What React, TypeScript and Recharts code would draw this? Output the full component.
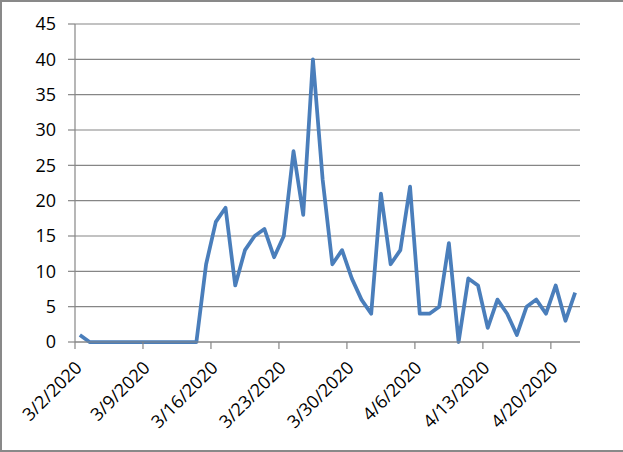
import React from 'react';
import { LineChart, Line, XAxis, YAxis, CartesianGrid } from 'recharts';

const dates = [
  '3/2/2020', '3/3/2020', '3/4/2020', '3/5/2020', '3/6/2020', '3/7/2020', '3/8/2020',
  '3/9/2020', '3/10/2020', '3/11/2020', '3/12/2020', '3/13/2020', '3/14/2020', '3/15/2020',
  '3/16/2020', '3/17/2020', '3/18/2020', '3/19/2020', '3/20/2020', '3/21/2020', '3/22/2020',
  '3/23/2020', '3/24/2020', '3/25/2020', '3/26/2020', '3/27/2020', '3/28/2020', '3/29/2020',
  '3/30/2020', '3/31/2020', '4/1/2020', '4/2/2020', '4/3/2020', '4/4/2020', '4/5/2020',
  '4/6/2020', '4/7/2020', '4/8/2020', '4/9/2020', '4/10/2020', '4/11/2020', '4/12/2020',
  '4/13/2020', '4/14/2020', '4/15/2020', '4/16/2020', '4/17/2020', '4/18/2020', '4/19/2020',
  '4/20/2020', '4/21/2020', '4/22/2020',
];

const counts = [
  1, 0, 0, 0, 0, 0, 0,
  0, 0, 0, 0, 0, 0, 11,
  17, 19, 8, 13, 15, 16, 12,
  15, 27, 18, 40, 23, 11, 13,
  9, 6, 4, 21, 11, 13, 22,
  4, 4, 5, 14, 0, 9, 8,
  2, 6, 4, 1, 5, 6, 4,
  8, 3, 7,
];

// weekly labels on the date axis (day offset from 3/2/2020)
const tickDays = [0, 7, 14, 21, 28, 35, 42, 49];
const yTicks = [0, 5, 10, 15, 20, 25, 30, 35, 40, 45];

const gray = '#868686';
const font = '"Open Sans", sans-serif';

// points sit in the middle of each day slot, like Excel's "between tick marks"
const data = dates.map((d, i) => ({ day: i + 0.5, date: d, value: counts[i] }));

const DateTick = (props: any) => {
  const { x, y, payload } = props;
  const label = dates[payload.value];
  const ax = x + 8;
  const ay = y + 18;
  return (
    <text
      x={ax}
      y={ay}
      transform={`rotate(-45, ${ax}, ${ay})`}
      textAnchor="end"
      fill="#000"
      fontSize={18}
      fontFamily={font}
    >
      {label}
    </text>
  );
};

export default function App() {
  return (
    <div
      style={{
        position: 'absolute',
        top: 0,
        left: 0,
        width: 623,
        height: 452,
        boxSizing: 'border-box',
        borderTop: '2px solid #898989',
        borderLeft: '2px solid #898989',
        borderBottom: '2px solid #898989',
        background: '#fff',
      }}
    >
      <div style={{ position: 'absolute', top: -2, left: -2 }}>
        <LineChart
          width={623}
          height={452}
          data={data}
          margin={{ top: 24, right: 43, left: 0, bottom: 0 }}
        >
          <CartesianGrid horizontal vertical={false} stroke={gray} strokeWidth={1.2} />
          <XAxis
            dataKey="day"
            type="number"
            domain={[0, 52]}
            ticks={tickDays}
            interval={0}
            height={110}
            axisLine={{ stroke: gray, strokeWidth: 1.2 }}
            tickLine={{ stroke: gray, strokeWidth: 1.2 }}
            tickSize={7}
            tick={<DateTick />}
          />
          <YAxis
            domain={[0, 45]}
            ticks={yTicks}
            interval={0}
            width={75}
            axisLine={{ stroke: gray, strokeWidth: 1.2 }}
            tickLine={{ stroke: gray, strokeWidth: 1.2 }}
            tickSize={7}
            tickMargin={12}
            tick={{ fill: '#000', fontSize: 18, fontFamily: font }}
          />
          <Line
            type="linear"
            dataKey="value"
            stroke="#4A7EBB"
            strokeWidth={3.75}
            strokeLinejoin="round"
            dot={false}
            activeDot={false}
            isAnimationActive={false}
          />
        </LineChart>
      </div>
    </div>
  );
}
